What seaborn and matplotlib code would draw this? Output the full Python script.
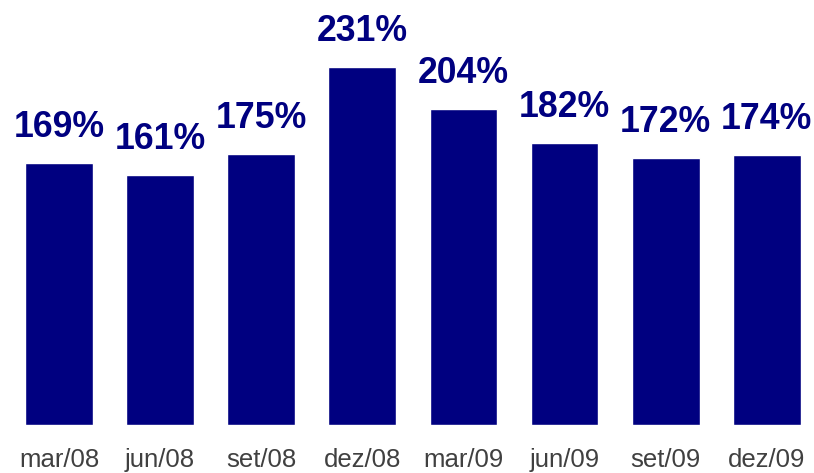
import pandas as pd
import seaborn as sns
import matplotlib.pyplot as plt

# Data
periods = ["mar/08", "jun/08", "set/08", "dez/08", "mar/09", "jun/09", "set/09", "dez/09"]
values = [169, 161, 175, 231, 204, 182, 172, 174]

df = pd.DataFrame({"periodo": periods, "valor": values})

sns.set_style("white")
plt.rcParams['font.family'] = ['Liberation Sans', 'DejaVu Sans']

fig = plt.figure(figsize=(8.14, 4.73), dpi=100)
ax = fig.add_axes([8.4 / 814, 48 / 473, 809 / 814, 403 / 473])

sns.barplot(data=df, x="periodo", y="valor", color="#000080", saturation=1,
            width=0.67, ax=ax)

ax.set_xlim(-0.5, 7.5)
ax.set_ylim(0, 260)

# value labels above bars
for i, v in enumerate(values):
    ax.annotate(f"{v}%", (i, v), xytext=(0, 18.7), textcoords="offset points",
                ha="center", va="baseline", fontsize=25.7, fontweight="bold",
                color="#000080")

ax.set_xlabel("")
ax.set_ylabel("")
ax.set_yticks([])
ax.tick_params(axis="x", length=0, pad=16.5, labelsize=18.5, labelcolor="#404040")
sns.despine(ax=ax, left=True, bottom=True)

fig.savefig("out.png", dpi=100)
